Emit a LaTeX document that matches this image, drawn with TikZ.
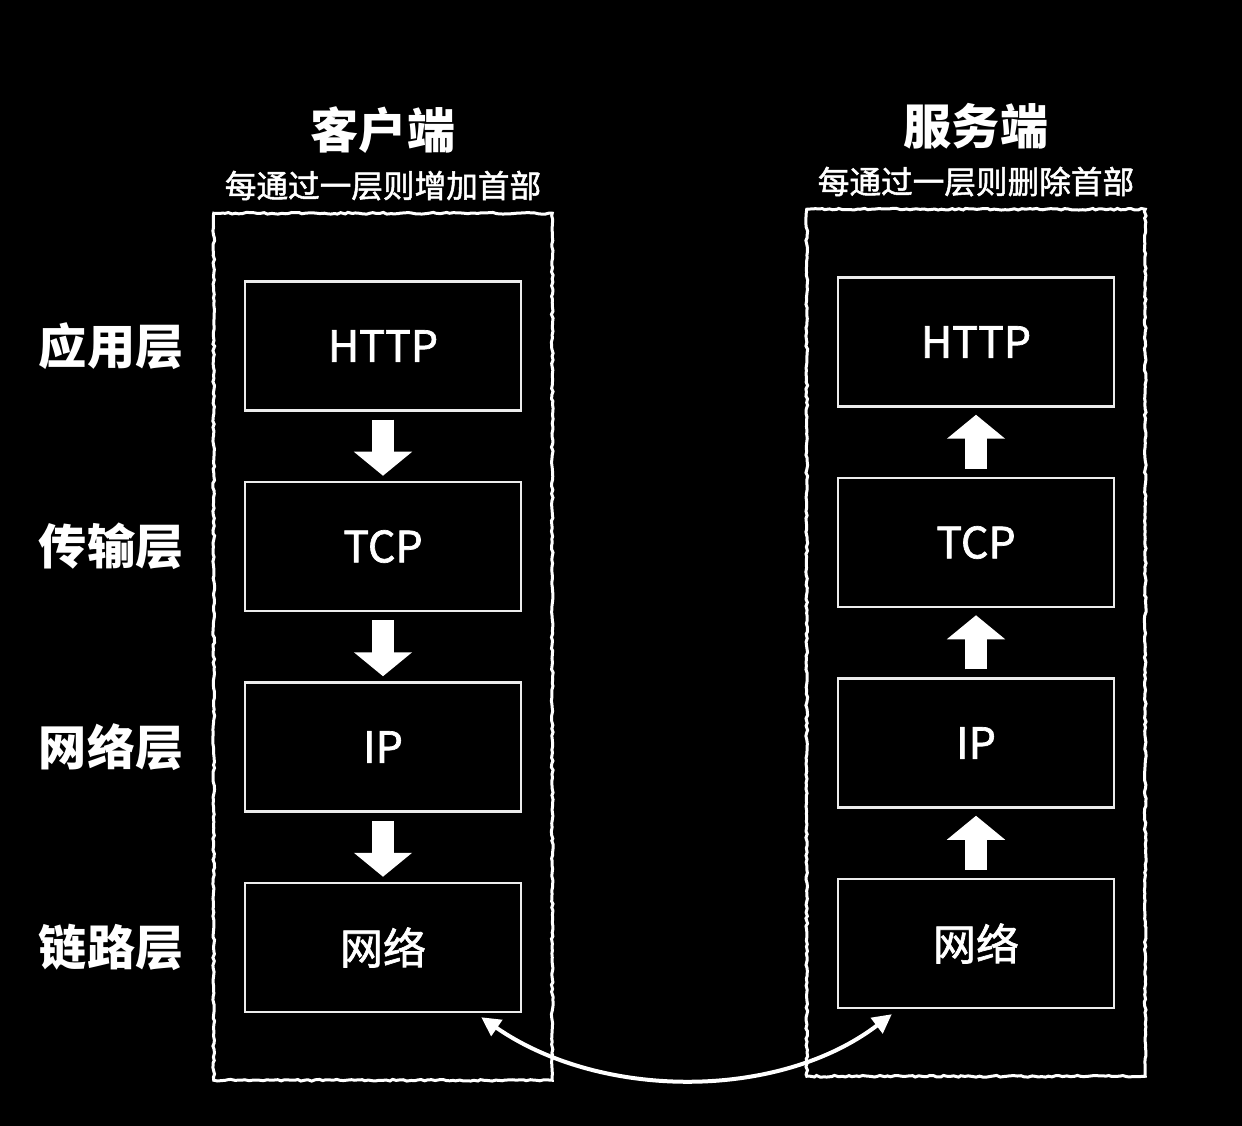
\documentclass[tikz,border=0pt]{standalone}
\usepackage{fontspec}
\setmainfont{Noto Sans CJK SC}
\newfontfamily\midfont[RawFeature={embolden=1.6}]{Noto Sans CJK SC}
\usepackage{tikz}
\usetikzlibrary{
  arrows.meta,
  calc,
  decorations.pathmorphing,
  fit,
  positioning
}
\definecolor{chalk}{RGB}{236,236,236}
\tikzset{
  layerbox/.style={
    draw=chalk,
    line width=0.05cm,
    minimum width=5.52cm,
    minimum height=2.58cm,
    text=white,
    font=\midfont\fontsize{24.5}{28}\selectfont
  },
  frame/.style={
    draw=white,
    line width=0.06cm,
    decorate,
    decoration={random steps, segment length=2pt, amplitude=0.5pt},
    inner xsep=0.6cm,
    inner ysep=1.34cm
  },
  sidetitle/.style={
    text=white,
    inner sep=0pt,
    font=\bfseries\fontsize{27.4}{31}\selectfont
  },
  subtitle/.style={
    text=white,
    inner sep=0pt,
    font=\midfont\fontsize{18}{21}\selectfont
  },
  layername/.style={
    text=white,
    inner sep=0pt,
    font=\bfseries\fontsize{27.4}{31}\selectfont
  },
  flow/.style={
    draw=white,
    line width=0.45cm,
    -{Triangle[length=0.48cm, width=1.14cm]}
  },
  wire/.style={
    draw=white,
    line width=0.08cm,
    {Triangle[length=0.38cm, width=0.38cm]}-{Triangle[length=0.38cm, width=0.38cm]}
  }
}
\begin{document}
\begin{tikzpicture}[node distance=1.38cm]
  \fill[black] (0,0) rectangle (24.84,-22.52);
  \useasboundingbox (0,0) rectangle (24.84,-22.52);

  % client stack
  \node[layerbox] (lhttp) at (7.66,-6.92) {HTTP};
  \node[layerbox, below=of lhttp] (ltcp) {TCP};
  \node[layerbox, below=of ltcp] (lip) {IP};
  \node[layerbox, below=of lip] (lnet) {网络};
  \node[frame, fit=(lhttp) (lnet)] (lframe) {};

  % server stack
  \node[layerbox] (rhttp) at (19.52,-6.84) {HTTP};
  \node[layerbox, below=of rhttp] (rtcp) {TCP};
  \node[layerbox, below=of rtcp] (rip) {IP};
  \node[layerbox, below=of rip] (rnet) {网络};
  \node[frame, fit=(rhttp) (rnet)] (rframe) {};

  \node[subtitle, above=0.22cm of lframe] (lsub) {每通过一层则增加首部};
  \node[sidetitle, above=0.34cm of lsub] (ltitle) {客户端};
  \node[subtitle, above=0.22cm of rframe] (rsub) {每通过一层则删除首部};
  \node[sidetitle, above=0.34cm of rsub] (rtitle) {服务端};

  \node[layername, left=1.2cm of lhttp] (app) {应用层};
  \node[layername, left=1.2cm of ltcp] (trans) {传输层};
  \node[layername, left=1.2cm of lip] (netl) {网络层};
  \node[layername, left=1.2cm of lnet] (link) {链路层};

  \draw[flow, shorten <=0.16cm, shorten >=0.1cm] (lhttp) -- (ltcp);
  \draw[flow, shorten <=0.16cm, shorten >=0.1cm] (ltcp) -- (lip);
  \draw[flow, shorten <=0.16cm, shorten >=0.1cm] (lip) -- (lnet);
  \draw[flow, shorten <=0.16cm, shorten >=0.14cm] (rtcp) -- (rhttp);
  \draw[flow, shorten <=0.16cm, shorten >=0.14cm] (rip) -- (rtcp);
  \draw[flow, shorten <=0.16cm, shorten >=0.14cm] (rnet) -- (rip);

  \coordinate (lend) at ($(lnet.south east)+(-0.82,-0.08)$);
  \coordinate (rend) at ($(rnet.south west)+(1.10,-0.10)$);
  \draw[wire] (lend) .. controls +(2.4,-1.66) and +(-2.26,-1.72) .. (rend);
\end{tikzpicture}
\end{document}
